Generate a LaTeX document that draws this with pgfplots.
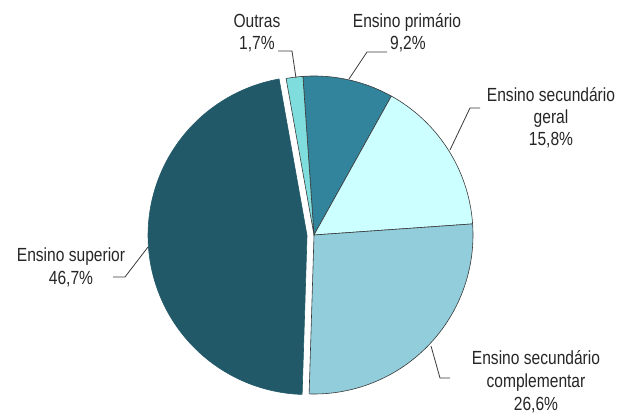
\documentclass[border=0pt]{standalone}
\usepackage{fontspec}
\setmainfont{Liberation Sans}[FakeStretch=0.82]
\usepackage{pgfplots}
\usepackage{pgfplotstable}
\pgfplotsset{compat=1.18}
\definecolor{cPrim}{HTML}{31849B}
\definecolor{cGeral}{HTML}{CCFFFF}
\definecolor{cCompl}{HTML}{92CDDC}
\definecolor{cSup}{HTML}{215968}
\definecolor{cOut}{HTML}{7FDDDD}
\definecolor{txt}{HTML}{262626}
\definecolor{edge}{HTML}{3A3A3A}

\pgfplotstableread{
name pct explode fillc drawc
primario 9.2 0 cPrim edge
geral 15.8 0 cGeral edge
compl 26.6 0 cCompl edge
superior 46.7 7 cSup cSup
outras 1.7 0 cOut edge
}\piedata

\newcommand{\lab}{\fontsize{19}{22}\selectfont}

\begin{document}
\begin{tikzpicture}
\begin{axis}[
  x=1pt, y=1pt, scale only axis,
  xmin=0, xmax=635, ymin=0, ymax=415,
  hide axis, clip=false,
]
\def\cum{0}
\pgfplotsforeachungrouped \i in {0,...,4}{%
  \pgfplotstablegetelem{\i}{pct}\of\piedata \let\p\pgfplotsretval
  \pgfplotstablegetelem{\i}{explode}\of\piedata \let\ex\pgfplotsretval
  \pgfplotstablegetelem{\i}{fillc}\of\piedata \let\fc\pgfplotsretval
  \pgfplotstablegetelem{\i}{drawc}\of\piedata \let\dc\pgfplotsretval
  \pgfmathsetmacro\aS{94-3.6*\cum}%
  \pgfmathsetmacro\aE{94-3.6*(\cum+\p)}%
  \pgfmathsetmacro\aM{(\aS+\aE)/2}%
  \pgfmathsetmacro\cx{314+\ex*cos(\aM)}%
  \pgfmathsetmacro\cy{180+\ex*sin(\aM)}%
  \edef\doplot{\noexpand\addplot[fill=\fc, draw=\dc, line width=0.6pt, line join=round,
     domain=\aE:\aS, samples=120, variable=\noexpand\t]
     ({\cx+159*cos(\noexpand\t)},{\cy+159*sin(\noexpand\t)}) -- (axis cs:\cx,\cy) -- cycle;}%
  \doplot
  \pgfmathsetmacro\cum{\cum+\p}%
}

% leader lines
\draw[edge, line width=0.8pt] (axis cs:278,364) -- (axis cs:292,364) -- (axis cs:296,337);
\draw[edge, line width=0.8pt] (axis cs:387,363) -- (axis cs:367,363) -- (axis cs:349,336);
\draw[edge, line width=0.8pt] (axis cs:480,307) -- (axis cs:470,307) -- (axis cs:450,265);
\draw[edge, line width=0.8pt] (axis cs:113,138) -- (axis cs:125,138) -- (axis cs:148,168);
\draw[edge, line width=0.8pt] (axis cs:450,37) -- (axis cs:440,37) -- (axis cs:431,69);

% labels
\tikzset{lb/.style={anchor=base, inner sep=0pt, text=txt, font=\lab}}
\node[lb] at (axis cs:257,387) {Outras};
\node[lb] at (axis cs:257,365) {1,7\%};
\node[lb] at (axis cs:407,387) {Ensino primário};
\node[lb] at (axis cs:408,365) {9,2\%};
\node[lb] at (axis cs:551,313) {Ensino secundário};
\node[lb] at (axis cs:551,291) {geral};
\node[lb] at (axis cs:551,269) {15,8\%};
\node[lb] at (axis cs:71,153) {Ensino superior};
\node[lb] at (axis cs:71,130) {46,7\%};
\node[lb] at (axis cs:536,50) {Ensino secundário};
\node[lb] at (axis cs:536,27) {complementar};
\node[lb] at (axis cs:536,4) {26,6\%};
\end{axis}
\pgfresetboundingbox
\useasboundingbox (current axis.south west) rectangle (current axis.north east);
\end{tikzpicture}
\end{document}
